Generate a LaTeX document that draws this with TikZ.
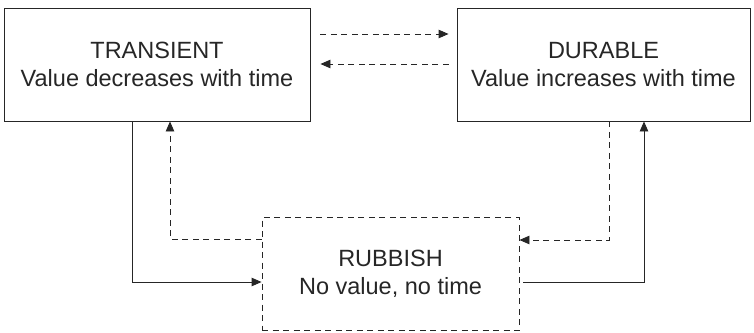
\documentclass[tikz,border=0pt]{standalone}
\usepackage{fontspec}
\setmainfont{Liberation Sans}
\usetikzlibrary{arrows.meta}
\begin{document}
\begin{tikzpicture}[x=1pt,y=1pt,
  box/.style={draw=black!85, line width=0.9pt, align=center, inner sep=0pt,
    font=\fontsize{23.5}{28}\selectfont, text=black!85},
  dbox/.style={box, dash pattern=on 6pt off 4.5pt},
  conn/.style={draw=black!85, line width=0.9pt, -{Triangle[length=10pt,width=8.5pt]}},
  dconn/.style={conn, dash pattern=on 6pt off 4.5pt}]
\useasboundingbox (0,0) rectangle (754,-332);
\node[box, minimum width=306pt, minimum height=113pt] (T) at (157,-64.5)
  {TRANSIENT\\Value decreases with time};
\node[box, minimum width=293pt, minimum height=113pt] (D) at (603.5,-64.5)
  {DURABLE\\Value increases with time};
\node[dbox, minimum width=257pt, minimum height=113pt] (R) at (390.5,-274)
  {RUBBISH\\No value, no time};
% top dashed pair
\draw[dconn] ([xshift=10pt,yshift=30.5pt]T.east) -- ([xshift=-8pt,yshift=30.5pt]D.west);
\draw[dconn] ([xshift=-8pt,yshift=0.5pt]D.west) -- ([xshift=10pt,yshift=0.5pt]T.east);
% left side
\draw[conn] ([xshift=-25pt]T.south) |- ([yshift=-8pt]R.west);
\draw[dconn] ([yshift=35pt]R.west) -| ([xshift=13pt]T.south);
% right side
\draw[dconn] ([xshift=5.5pt]D.south) |- ([yshift=34pt]R.east);
\draw[conn] ([xshift=4pt,yshift=-8pt]R.east) -| ([xshift=40.5pt]D.south);
\end{tikzpicture}
\end{document}
